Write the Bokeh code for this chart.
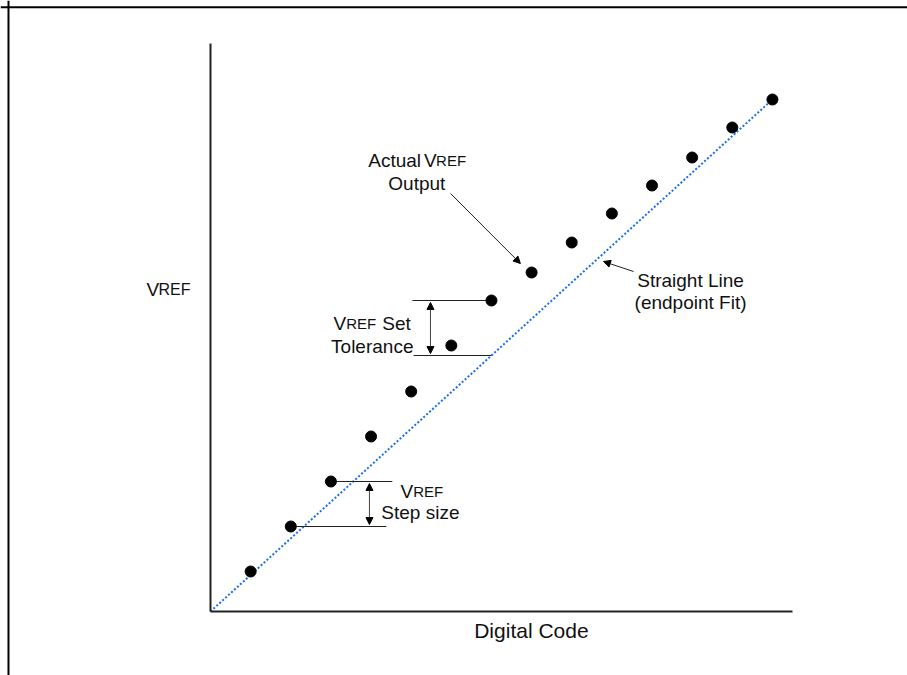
from bokeh.plotting import figure
from bokeh.models import Label, Arrow, NormalHead, FixedTicker, Range1d, Span
from bokeh.embed import file_html
from bokeh.resources import INLINE

# ---- data (digital codes vs. actual VREF output, arbitrary units) ----
codes = [1, 2, 3, 4, 5, 6, 7, 8, 9, 10, 11, 12, 13, 14]
vref = [40, 85, 130, 175, 220, 266, 311, 339, 369, 398, 426, 454, 484, 512]
# endpoint-fit straight line: from origin to last code
fit_x = [0, codes[-1]]
fit_y = [0, vref[-1]]

x_label = "Digital Code"
y_label_big, y_label_small = "V", "REF"

FONT = "Liberation Sans"
TXT = "#111111"

W, H = 907, 675
p = figure(width=W, height=H, output_backend="svg", toolbar_location=None,
           x_range=Range1d(-5.232, -5.232 + W / 40.138),
           y_range=Range1d(611 - H, 611),
           min_border=0)
p.grid.visible = False
p.outline_line_color = None
p.background_fill_color = "white"
p.border_fill_color = "white"
for ax in (p.xaxis, p.yaxis):
    ax.ticker = FixedTicker(ticks=[])
    ax.major_tick_line_color = None
    ax.minor_tick_line_color = None
    ax.major_tick_out = 0
    ax.major_tick_in = 0
    ax.major_label_standoff = 0
    ax.major_label_text_font_size = "0px"
    ax.axis_line_color = "#222222"
    ax.axis_line_width = 2
    ax.fixed_location = 0
p.xaxis.bounds = (0, 14.5)
p.yaxis.bounds = (0, 568)

# outer box (top and left edges visible)
p.add_layout(Span(location=604.3, dimension="width", line_color="black", line_width=2))
p.add_layout(Span(location=-5.033, dimension="height", line_color="black", line_width=2))

# straight line (endpoint fit)
p.line(fit_x, fit_y, line_color="#1a6ef0", line_width=2, line_dash="2 2")

def fit_at(c):
    return fit_y[1] * c / fit_x[1]

# tolerance reference lines
tol_code = codes[6]
p.segment(x0=[5.03, 5.06], y0=[vref[6], fit_at(tol_code)],
          x1=[tol_code, tol_code], y1=[vref[6], fit_at(tol_code)],
          line_color="#222222", line_width=1)
# step size reference lines
p.segment(x0=[codes[2], codes[1]], y0=[vref[2], vref[1]],
          x1=[4.53, 4.38], y1=[vref[2], vref[1]],
          line_color="#222222", line_width=1)

# points
p.scatter(codes, vref, size=11, color="black")

def head():
    return NormalHead(size=7, fill_color="black", line_color="black", line_width=1)

# double arrows
p.add_layout(Arrow(start=head(), end=head(), x_start=5.48, y_start=vref[6] - 2,
                   x_end=5.48, y_end=fit_at(tol_code) + 2,
                   line_color="#444444", line_width=1))
p.add_layout(Arrow(start=head(), end=head(), x_start=3.96, y_start=vref[2] - 2,
                   x_end=3.96, y_end=vref[1] + 2,
                   line_color="#444444", line_width=1))
# pointer arrows
p.add_layout(Arrow(end=head(), x_start=5.98, y_start=418, x_end=7.72, y_end=348,
                   line_color="#222222", line_width=1))
p.add_layout(Arrow(end=head(), x_start=10.54, y_start=340, x_end=9.79, y_end=350,
                   line_color="#222222", line_width=1))

def lab(x, y, t, size, align="left"):
    p.add_layout(Label(x=x, y=y, text=t, text_font=FONT, text_font_size=f"{size}px",
                       text_color=TXT, text_align=align, text_baseline="alphabetic"))

# axis labels
lab(7.995, -19, x_label, 21, "center")
lab(-1.594, 322, y_label_big, 19)
lab(-1.295, 322, y_label_small, 16)

# Actual VREF Output
lab(3.93, 451, "Actual ", 19)
lab(5.32, 451, "V", 19)
lab(5.62, 451, "REF", 15)
lab(5.14, 428, "Output", 19, "center")

# Straight Line (endpoint Fit)
lab(11.96, 331, "Straight Line", 19, "center")
lab(11.96, 309, "(endpoint Fit)", 19, "center")

# VREF Set Tolerance
lab(3.064, 288, "V", 19)
lab(3.38, 288, "REF", 15)
lab(4.28, 288, "Set", 19)
lab(4.03, 265, "Tolerance", 19, "center")

# VREF Step size
lab(4.733, 120, "V", 19)
lab(5.05, 120, "REF", 15)
lab(5.23, 99, "Step size", 19, "center")

open("out.html", "w").write(file_html(p, INLINE))
